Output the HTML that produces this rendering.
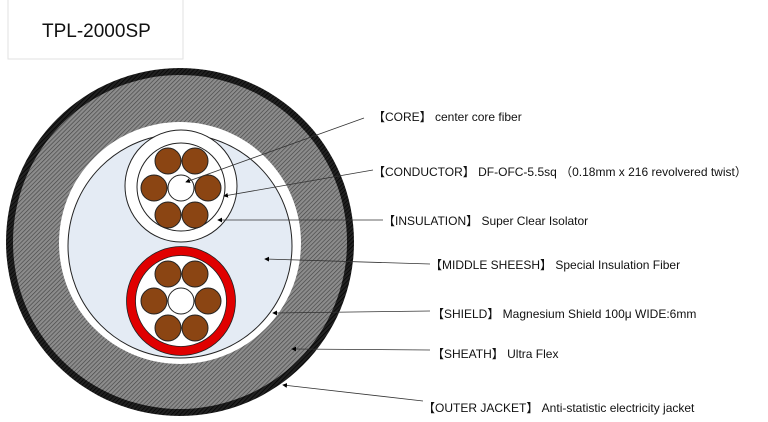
<!DOCTYPE html>
<html><head><meta charset="utf-8"><style>
html,body{margin:0;padding:0;background:#fff;width:768px;height:422px;overflow:hidden}
svg text{font-family:"Liberation Sans","Noto Sans CJK JP",sans-serif;font-size:12px;fill:#111}
</style></head><body>
<svg width="768" height="422" viewBox="0 0 768 422">
<defs>
<pattern id="h" width="3" height="3" patternUnits="userSpaceOnUse" patternTransform="rotate(45)">
<rect width="3" height="3" fill="#8c8c8c"/><line x1="0" y1="0" x2="0" y2="3" stroke="#444" stroke-width="1.3"/></pattern>
<pattern id="k" width="3" height="3" patternUnits="userSpaceOnUse" patternTransform="rotate(45)">
<rect width="3" height="3" fill="#222"/><line x1="0" y1="0" x2="0" y2="3" stroke="#000" stroke-width="1.5"/></pattern>
<marker id="a" markerWidth="6" markerHeight="6" refX="5" refY="3" orient="auto"><path d="M0,0 L6,3 L0,6z" fill="#000"/></marker>
</defs>
<rect x="8" y="-1" width="175" height="60" fill="#fff" stroke="#e2e2e2"/>
<text x="42" y="37" style="font-size:19px">TPL-2000SP</text>
<circle cx="180" cy="242" r="174" fill="url(#k)"/>
<circle cx="180" cy="242" r="167" fill="url(#h)"/>
<circle cx="180" cy="243" r="121" fill="#fff"/>
<circle cx="180" cy="246" r="112" fill="#e4ebf4" stroke="#222" stroke-width="1"/>
<circle cx="181" cy="186" r="56" fill="#fff" stroke="#222"/>
<circle cx="181" cy="187" r="44" fill="#fff" stroke="#222"/>
<g fill="#8b4513" stroke="#222">
<circle cx="168" cy="161" r="13"/><circle cx="195" cy="161" r="13"/>
<circle cx="154" cy="188" r="13"/><circle cx="208" cy="188" r="13"/>
<circle cx="168" cy="215" r="13"/><circle cx="195" cy="215" r="13"/>
</g>
<circle cx="181" cy="188" r="13" fill="#fff" stroke="#222"/>
<circle cx="181" cy="301" r="50" fill="#fff" stroke="#e00000" stroke-width="9"/>
<circle cx="181" cy="301" r="54.5" fill="none" stroke="#222" stroke-width="0.8"/>
<circle cx="181" cy="301" r="45.5" fill="none" stroke="#222" stroke-width="0.8"/>
<g fill="#8b4513" stroke="#222">
<circle cx="168" cy="274" r="13"/><circle cx="195" cy="274" r="13"/>
<circle cx="154" cy="301" r="13"/><circle cx="208" cy="301" r="13"/>
<circle cx="168" cy="328" r="13"/><circle cx="195" cy="328" r="13"/>
</g>
<circle cx="181" cy="301" r="13" fill="#fff" stroke="#222"/>
<g stroke="#333" stroke-width="0.8" marker-end="url(#a)">
<line x1="364" y1="118" x2="186" y2="182"/>
<line x1="373" y1="170" x2="224" y2="196"/>
<line x1="383" y1="220" x2="218" y2="220"/>
<line x1="430" y1="264" x2="265" y2="259"/>
<line x1="430" y1="311" x2="273" y2="313"/>
<line x1="430" y1="350" x2="292" y2="349"/>
<line x1="423" y1="401" x2="283" y2="385"/>
</g>
<text x="373" y="121">【CORE】 center core fiber</text>
<text x="373" y="176">【CONDUCTOR】 DF-OFC-5.5sq （0.18mm  x 216  revolvered twist）</text>
<text x="383" y="225">【INSULATION】 Super Clear Isolator</text>
<text x="430" y="269">【MIDDLE SHEESH】 Special Insulation Fiber</text>
<text x="432" y="318">【SHIELD】 Magnesium Shield 100μ  WIDE:6mm</text>
<text x="432" y="358">【SHEATH】 Ultra Flex</text>
<text x="423" y="412">【OUTER JACKET】 Anti-statistic electricity jacket</text>
</svg>
</body></html>
